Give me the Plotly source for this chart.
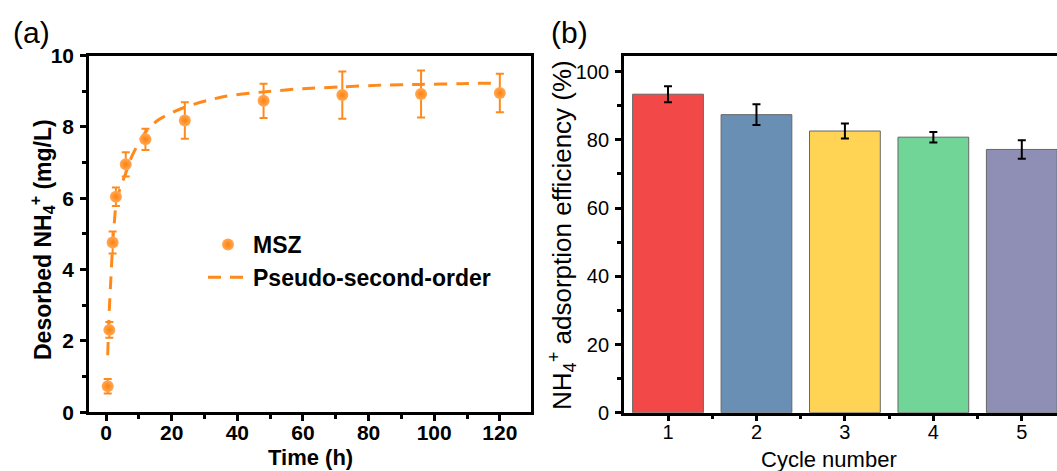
import plotly.graph_objects as go

# ---------------- data: panel (a) ----------------
time_h = [0.5, 1, 2, 3, 6, 12, 24, 48, 72, 96, 120]
desorbed = [0.73, 2.31, 4.76, 6.04, 6.95, 7.65, 8.18, 8.73, 8.89, 8.92, 8.95]
desorbed_err = [0.20, 0.22, 0.31, 0.26, 0.34, 0.30, 0.51, 0.48, 0.66, 0.66, 0.54]

fit_t = [0.5, 1, 1.5, 2, 2.5, 3, 4, 6, 8, 12, 16, 24, 36, 48, 60, 72, 84, 96, 108, 120]
fit_q = [1.6, 2.9, 3.8, 4.7, 5.3, 5.8, 6.2, 6.7, 7.2, 7.85, 8.2, 8.55, 8.85, 8.98, 9.07,
         9.12, 9.17, 9.19, 9.21, 9.23]

# ---------------- data: panel (b) ----------------
cycles = [1, 2, 3, 4, 5]
efficiency = [93.4, 87.4, 82.6, 80.8, 77.2]
efficiency_err = [2.35, 3.05, 2.2, 1.55, 2.7]
bar_colors = ["#F24848", "#6A8FB5", "#FFD455", "#71D597", "#8F8FB5"]

ORANGE = "#FF8A1C"
FONT = "Arial, Liberation Sans, sans-serif"

fig = go.Figure()

fig.add_trace(go.Scatter(
    x=fit_t, y=fit_q, mode="lines", name="Pseudo-second-order",
    line=dict(color=ORANGE, width=3, dash="13px,9px", shape="spline", smoothing=0.8),
    xaxis="x", yaxis="y", legendrank=2,
))
fig.add_trace(go.Scatter(
    x=time_h, y=desorbed, mode="markers", name="MSZ",
    marker=dict(size=12, color="#FFA95A", symbol="circle",
                gradient=dict(type="radial", color="#FF8208"), line=dict(width=0)),
    error_y=dict(type="data", array=desorbed_err, color=ORANGE, thickness=2, width=4),
    xaxis="x", yaxis="y", legendrank=1,
))

fig.add_trace(go.Bar(
    x=cycles, y=efficiency, width=0.8,
    marker=dict(color=bar_colors, line=dict(color="#666666", width=1)),
    error_y=dict(type="data", array=efficiency_err, color="black", thickness=2, width=4),
    xaxis="x2", yaxis="y2", showlegend=False,
))

W, H = 1057, 471
def px_x(p):
    return p / W
def px_y(p):
    return (H - p) / H

axis_common = dict(showline=True, linecolor="black", linewidth=2.5, mirror=True,
                   ticks="outside", ticklen=6, tickwidth=2.5, tickcolor="black",
                   showgrid=False, zeroline=False, automargin=False)

fig.update_layout(
    width=W, height=H,
    margin=dict(l=0, r=0, t=0, b=0, pad=0, autoexpand=False),
    paper_bgcolor="white", plot_bgcolor="white",
    font=dict(family=FONT, color="black"),
    xaxis=dict(domain=[px_x(89), px_x(531)], range=[-5.2, 129.5],
               tickvals=[0, 20, 40, 60, 80, 100, 120],
               tickfont=dict(size=21, family=FONT, weight="bold"),
               minor=dict(dtick=10, ticklen=4, tickwidth=2.5, ticks="outside", tickcolor="black"),
               anchor="y", ticklabelstandoff=-6, **axis_common),
    yaxis=dict(domain=[px_y(412.3), px_y(55.5)], range=[0, 10],
               tickvals=[0, 2, 4, 6, 8, 10],
               tickfont=dict(size=21, family=FONT, weight="bold"),
               minor=dict(dtick=1, ticklen=4, tickwidth=2.5, ticks="outside", tickcolor="black"),
               anchor="x", ticklabelstandoff=2, **axis_common),
    xaxis2=dict(domain=[px_x(623.8), 1.0], range=[0.5, 5.398],
                tickvals=cycles, ticktext=[str(c) for c in cycles],
                tickfont=dict(size=20, family=FONT),
                minor=dict(tickvals=[1.5, 2.5, 3.5, 4.5], ticklen=4, tickwidth=2.5,
                           ticks="outside", tickcolor="black"),
                anchor="y2", ticklabelstandoff=-6, **axis_common),
    yaxis2=dict(domain=[px_y(412.7), px_y(56)], range=[0, 104.6],
                tickvals=[0, 20, 40, 60, 80, 100],
                tickfont=dict(size=20, family=FONT),
                minor=dict(dtick=10, ticklen=4, tickwidth=2.5, ticks="outside", tickcolor="black"),
                anchor="x2", ticklabelstandoff=2,
                **{**axis_common, "mirror": False}),
    legend=dict(x=px_x(203), y=px_y(223), xanchor="left", yanchor="top",
                bgcolor="rgba(0,0,0,0)", font=dict(size=23, family=FONT, weight="bold"),
                itemwidth=40, tracegroupgap=0),
    showlegend=True,
)

annotations = [
    dict(text="(a)", x=px_x(31), y=px_y(33), font=dict(size=30, family=FONT)),
    dict(text="(b)", x=px_x(569), y=px_y(33), font=dict(size=30, family=FONT)),
    dict(text="Time (h)", x=px_x(310), y=px_y(457), font=dict(size=22, family=FONT, weight="bold")),
    dict(text="Cycle number", x=px_x(829), y=px_y(459), font=dict(size=22, family=FONT)),
    dict(text="Desorbed NH<sub>4</sub><sup>+</sup> (mg/L)", x=px_x(42), y=px_y(240), textangle=-90,
         font=dict(size=23, family=FONT, weight="bold")),
    dict(text="NH<sub>4</sub><sup>+</sup> adsorption efficiency (%)", x=px_x(562), y=px_y(235),
         textangle=-90, font=dict(size=26, family=FONT)),
]
for a in annotations:
    a.update(xref="paper", yref="paper", showarrow=False, xanchor="center", yanchor="middle")
fig.update_layout(annotations=annotations)

fig.write_html("out.html")
